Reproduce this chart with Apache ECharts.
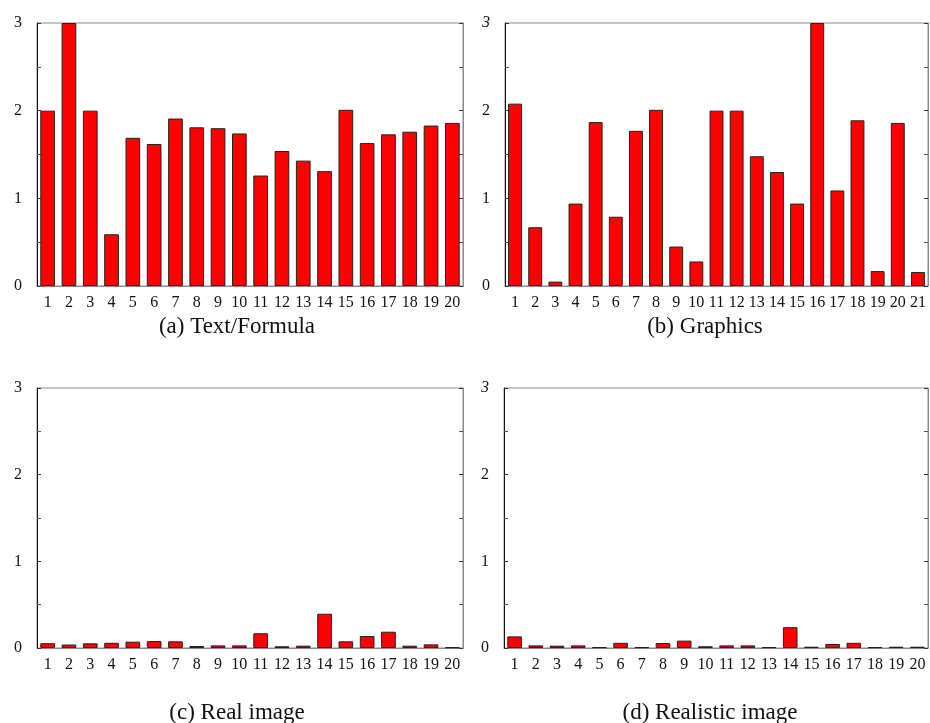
<!DOCTYPE html>
<html>
<head>
<meta charset="utf-8">
<script src="https://cdn.jsdelivr.net/npm/echarts@6/dist/echarts.min.js"></script>
<style>
  html, body { margin: 0; padding: 0; background: #fff; }
  #chart { width: 930px; height: 723px; }
</style>
</head>
<body>
<div id="chart"></div>
<script>
// categories
const cats20 = ['1','2','3','4','5','6','7','8','9','10','11','12','13','14','15','16','17','18','19','20'];
const cats21 = ['1','2','3','4','5','6','7','8','9','10','11','12','13','14','15','16','17','18','19','20','21'];
const yTicks = [0, 1, 2, 3];

// values
const textFormula = [2.0, 3.0, 2.0, 0.59, 1.69, 1.62, 1.91, 1.81, 1.80, 1.74, 1.26, 1.54, 1.43, 1.31, 2.01, 1.63, 1.73, 1.76, 1.83, 1.86];
const graphics = [2.08, 0.67, 0.05, 0.94, 1.87, 0.79, 1.77, 2.01, 0.45, 0.28, 2.0, 2.0, 1.48, 1.30, 0.94, 3.0, 1.09, 1.89, 0.17, 1.86, 0.16];
const realImage = [0.055, 0.04, 0.054, 0.06, 0.073, 0.08, 0.077, 0.023, 0.03, 0.03, 0.17, 0.02, 0.027, 0.395, 0.077, 0.138, 0.188, 0.027, 0.042, 0.008];
const realisticImage = [0.134, 0.03, 0.027, 0.03, 0.01, 0.06, 0.01, 0.057, 0.085, 0.02, 0.03, 0.03, 0.01, 0.24, 0.015, 0.046, 0.06, 0.01, 0.015, 0.015];

const captions = ['(a) Text/Formula', '(b) Graphics', '(c) Real image', '(d) Realistic image'];

const serif = '"Liberation Serif", "DejaVu Serif", serif';

// panel boxes: left, top, width, height, caption x, caption y
const panels = [
    { left: 37, top: 23, width: 426, height: 263, cx: 232, cy: 310, cats: cats20, data: textFormula, italic: false },
    { left: 505, top: 23, width: 423, height: 263, cx: 700, cy: 310, cats: cats21, data: graphics, italic: true },
    { left: 37, top: 388, width: 426, height: 260, cx: 232, cy: 696, cats: cats20, data: realImage, italic: false },
    { left: 504, top: 388, width: 424, height: 260, cx: 705, cy: 696, cats: cats20, data: realisticImage, italic: true }
];

const grid = [], xAxis = [], yAxis = [], series = [], title = [];

panels.forEach((p, i) => {
    grid.push({
        left: p.left, top: p.top, width: p.width, height: p.height,
        show: true, borderColor: '#8a8a8a', borderWidth: 1, backgroundColor: '#fff'
    });
    xAxis.push({
        type: 'category', gridIndex: i, data: p.cats,
        axisLine: { lineStyle: { color: '#8a8a8a', width: 1 } },
        axisTick: { show: false },
        axisLabel: { interval: 0, color: '#111', fontFamily: serif, fontSize: 16, margin: 9 }
    });
    const yBase = {
        type: 'value', gridIndex: i, min: yTicks[0], max: yTicks[yTicks.length - 1], interval: 1,
        splitLine: { show: false },
        axisTick: { show: true, inside: true, length: 4, lineStyle: { color: '#333' } },
        minorTick: { show: true, splitNumber: 2, length: 4, lineStyle: { color: '#555' } }
    };
    yAxis.push(Object.assign({}, yBase, {
        position: 'left',
        axisLine: { show: true, lineStyle: { color: '#111', width: 1 } },
        axisLabel: {
            color: '#111', fontFamily: serif, fontSize: 16, margin: 15,
            formatter: v => (p.italic && v === 3) ? '{i|3}' : String(v),
            rich: { i: { fontStyle: 'italic', fontFamily: serif, fontSize: 16, color: '#111' } }
        }
    }));
    yAxis.push(Object.assign({}, yBase, {
        position: 'right',
        axisLine: { show: true, lineStyle: { color: '#8a8a8a', width: 1 } },
        axisLabel: { show: false }
    }));
    series.push({
        type: 'bar', xAxisIndex: i, yAxisIndex: i * 2, data: p.data,
        barCategoryGap: '31%',
        itemStyle: { color: '#ff0000', borderColor: '#222', borderWidth: 1 },
        silent: true
    });
    title.push({
        text: captions[i], left: p.cx, top: p.cy, textAlign: 'center',
        textStyle: { fontFamily: serif, fontWeight: 'normal', fontSize: 23, color: '#111' }
    });
});

const chart = echarts.init(document.getElementById('chart'), null, { renderer: 'canvas' });
chart.setOption({
    animation: false,
    backgroundColor: '#fff',
    title: title,
    grid: grid,
    xAxis: xAxis,
    yAxis: yAxis,
    series: series
});
</script>
</body>
</html>
